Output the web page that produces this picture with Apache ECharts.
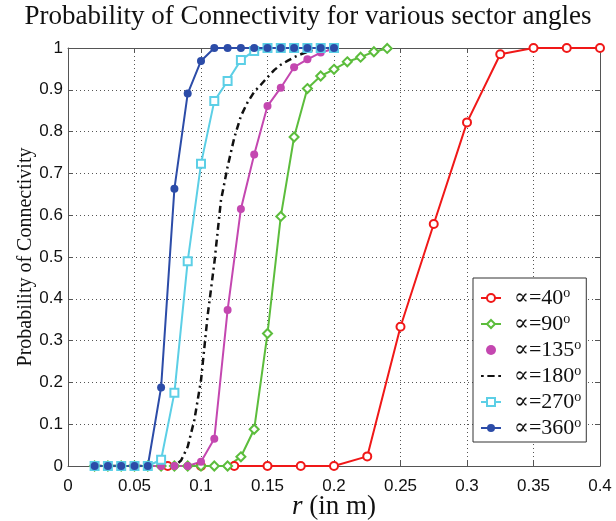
<!DOCTYPE html>
<html>
<head>
<meta charset="utf-8">
<script src="https://cdn.jsdelivr.net/npm/echarts@6/dist/echarts.min.js"></script>
<style>
  html, body { margin: 0; padding: 0; background: #fff; }
  #chart { width: 616px; height: 521px; }
</style>
</head>
<body>
<div id="chart"></div>
<script>
// r values (in m) for each curve
const rStep01 = [0.02, 0.03, 0.04, 0.05, 0.06, 0.07, 0.08, 0.09, 0.1, 0.11, 0.12,
  0.13, 0.14, 0.15, 0.16, 0.17, 0.18, 0.19, 0.2];
const rGreen = [0.02, 0.03, 0.04, 0.05, 0.06, 0.07, 0.08, 0.09, 0.1, 0.11, 0.12,
  0.13, 0.14, 0.15, 0.16, 0.17, 0.18, 0.19, 0.2, 0.21, 0.22, 0.23, 0.24];
const rRed = [0.05, 0.075, 0.1, 0.125, 0.15, 0.175, 0.2, 0.225, 0.25, 0.275, 0.3,
  0.325, 0.35, 0.375, 0.4];
const rBlack = [0.02, 0.03, 0.04, 0.05, 0.06, 0.07, 0.075, 0.08, 0.085, 0.09, 0.095,
  0.1, 0.105, 0.11, 0.115, 0.12, 0.125, 0.13, 0.135, 0.14, 0.145, 0.15, 0.155,
  0.16, 0.165, 0.17, 0.175, 0.18, 0.185, 0.19, 0.195, 0.2];

// probability of connectivity
const p40 = [0, 0, 0, 0, 0, 0, 0, 0.023, 0.333, 0.579, 0.822, 0.985, 1, 1, 1];
const p90 = [0, 0, 0, 0, 0, 0, 0, 0, 0, 0, 0, 0.022, 0.088, 0.317, 0.597, 0.787,
  0.903, 0.933, 0.949, 0.967, 0.978, 0.991, 0.999];
const p135 = [0, 0, 0, 0, 0, 0, 0, 0, 0.01, 0.065, 0.373, 0.615, 0.745, 0.861,
  0.905, 0.954, 0.973, 0.989, 0.998];
const p180 = [0, 0, 0, 0, 0, 0, 0, 0, 0.013, 0.046, 0.11, 0.205, 0.36, 0.485, 0.635,
  0.716, 0.785, 0.837, 0.87, 0.895, 0.912, 0.93, 0.947, 0.96, 0.969, 0.978, 0.985,
  0.991, 0.996, 1, 1, 1];
const p270 = [0, 0, 0, 0, 0, 0.015, 0.175, 0.49, 0.723, 0.873, 0.921, 0.971, 0.993,
  1, 1, 1, 1, 1, 1];
const p360 = [0, 0, 0, 0, 0, 0.188, 0.663, 0.891, 0.969, 1, 1, 1, 1, 1, 1, 1, 1, 1, 1];

const xTicks = { min: 0, max: 0.4, interval: 0.05 };
const yTicks = { min: 0, max: 1, interval: 0.1 };

const serif = "'Liberation Serif', 'DejaVu Serif', serif";
const sans = "'Liberation Sans', Arial, sans-serif";

function pairs(xs, ys) {
  return xs.map((x, i) => [x, ys[i]]);
}

const chart = echarts.init(document.getElementById("chart"));

const frameAxis = {
  axisLine: { show: true, onZero: false, lineStyle: { color: "#555", width: 1 } },
  axisTick: { show: true, inside: true, length: 5, lineStyle: { color: "#555" } },
};

// short dash-dot glyph for the legend of the black curve
const dashDotIcon = "path://M0,4h3v2h-3z M7,4h8v2h-8z M19,4h3v2h-3z";

const option = {
  backgroundColor: "#fff",
  animation: false,
  title: {
    text: "Probability of Connectivity for various sector angles",
    left: "center",
    top: -2,
    textStyle: { fontFamily: serif, fontSize: 27, fontWeight: "normal", color: "#111" },
  },
  grid: { left: 68, right: 16, top: 48, bottom: 55, outerBoundsMode: "none" },
  legend: {
    orient: "vertical",
    left: 473,
    top: 278,
    backgroundColor: "#fff",
    borderColor: "#333",
    borderWidth: 1,
    borderRadius: 0,
    padding: [8, 5, 3, 7],
    itemWidth: 20,
    itemHeight: 10,
    itemGap: 3,
    formatter: (name) => "{a|" + name.replace("°", "") + "}{s|o}",
    textStyle: {
      rich: {
        a: { fontFamily: serif, fontSize: 22, color: "#111", lineHeight: 22, padding: [0, 0, 0, 8] },
        s: { fontFamily: serif, fontSize: 14, color: "#111", padding: [0, 0, 10, 0] },
      },
    },
    data: [
      { name: "∝=40°" },
      { name: "∝=90°" },
      { name: "∝=135°", icon: "circle", itemStyle: { borderWidth: 0 } },
      { name: "∝=180°", icon: dashDotIcon },
      { name: "∝=270°" },
      { name: "∝=360°" },
    ],
  },
  xAxis: [
    {
      type: "value",
      min: xTicks.min,
      max: xTicks.max,
      interval: xTicks.interval,
      ...frameAxis,
      axisLabel: { fontFamily: sans, fontSize: 17, color: "#111", margin: 12 },
      splitLine: { show: true, lineStyle: { type: [1, 3], color: "#555", width: 1 } },
      name: "{i|r} (in m)",
      nameLocation: "middle",
      nameGap: 27,
      nameMoveOverlap: false,
      nameTextStyle: {
        fontFamily: serif,
        fontSize: 27,
        color: "#111",
        rich: {
          i: { fontFamily: serif, fontStyle: "italic", fontSize: 27, color: "#111" },
        },
      },
    },
    {
      type: "value",
      position: "top",
      min: xTicks.min,
      max: xTicks.max,
      interval: xTicks.interval,
      ...frameAxis,
      axisLabel: { show: false },
      splitLine: { show: false },
    },
  ],
  yAxis: [
    {
      type: "value",
      min: yTicks.min,
      max: yTicks.max,
      interval: yTicks.interval,
      ...frameAxis,
      axisLabel: { fontFamily: sans, fontSize: 17, color: "#111", margin: 5 },
      splitLine: { show: true, lineStyle: { type: [1, 3], color: "#555", width: 1 } },
      name: "Probability of Connectivity",
      nameLocation: "middle",
      nameGap: 32,
      nameMoveOverlap: false,
      nameTextStyle: { fontFamily: serif, fontSize: 20, color: "#111" },
    },
    {
      type: "value",
      position: "right",
      min: yTicks.min,
      max: yTicks.max,
      interval: yTicks.interval,
      ...frameAxis,
      axisLabel: { show: false },
      splitLine: { show: false },
    },
  ],
  series: [
    {
      name: "∝=40°",
      type: "line",
      data: pairs(rRed, p40),
      color: "#f01818",
      symbol: "emptyCircle",
      symbolSize: 8,
      lineStyle: { width: 2 },
      itemStyle: { borderWidth: 2 },
    },
    {
      name: "∝=90°",
      type: "line",
      data: pairs(rGreen, p90),
      color: "#5cbd3c",
      symbol: "emptyDiamond",
      symbolSize: 9,
      lineStyle: { width: 2 },
      itemStyle: { borderWidth: 2 },
    },
    {
      name: "∝=135°",
      type: "line",
      data: pairs(rStep01, p135),
      color: "#c447b0",
      symbol: "circle",
      symbolSize: 8,
      lineStyle: { width: 2 },
    },
    {
      name: "∝=180°",
      type: "line",
      data: pairs(rBlack, p180),
      color: "#111",
      symbol: "none",
      lineStyle: { width: 2.5, type: [7, 4, 2, 4] },
    },
    {
      name: "∝=270°",
      type: "line",
      data: pairs(rStep01, p270),
      color: "#5ccfe6",
      symbol: "emptyRect",
      symbolSize: 8,
      lineStyle: { width: 2 },
      itemStyle: { borderWidth: 2 },
    },
    {
      name: "∝=360°",
      type: "line",
      data: pairs(rStep01, p360),
      color: "#2c4ca8",
      symbol: "circle",
      symbolSize: 8,
      lineStyle: { width: 2 },
    },
  ],
};

chart.setOption(option);
</script>
</body>
</html>
